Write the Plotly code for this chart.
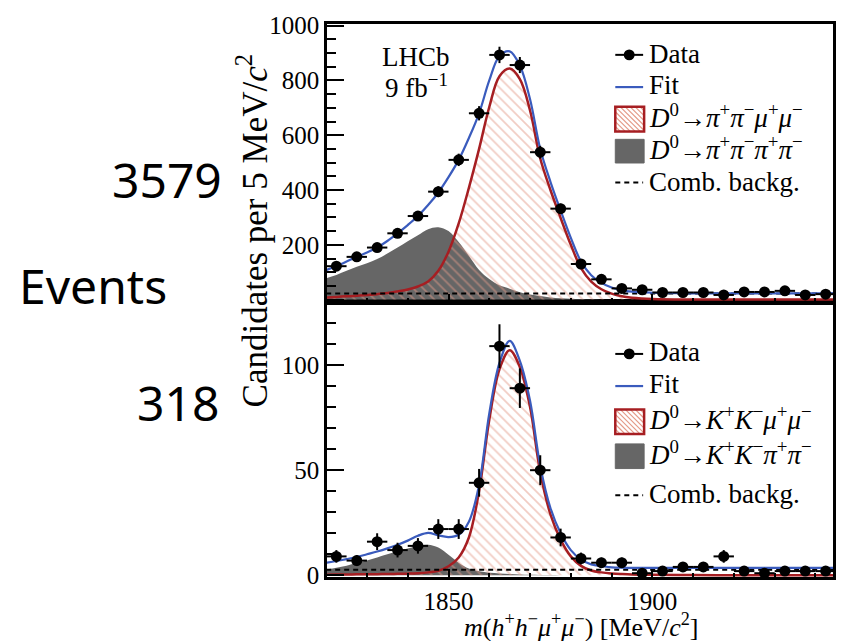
import plotly.graph_objects as go

# ---------------- data ----------------
BIN_CENTERS = [1822.5, 1827.5, 1832.5, 1837.5, 1842.5, 1847.5, 1852.5, 1857.5,
               1862.5, 1867.5, 1872.5, 1877.5, 1882.5, 1887.5, 1892.5, 1897.5,
               1902.5, 1907.5, 1912.5, 1917.5, 1922.5, 1927.5, 1932.5, 1937.5, 1942.5]
BIN_HALF_WIDTH = 2.5

PIPI_DATA = [122, 156, 190, 242, 305, 394, 510, 680, 893, 856, 538, 332, 130,
             74, 41, 36, 26, 26, 26, 17, 28, 28, 32, 17, 20]
PIPI_ERR = [11, 12.5, 13.8, 15.6, 17.5, 19.8, 22.6, 26, 29.9, 29.3, 23.2, 18.2, 11.4,
            8.6, 6.4, 6, 5.1, 5.1, 5.1, 4.1, 5.3, 5.3, 5.7, 4.1, 4.5]

KK_DATA = [9, 7, 16, 12, 14, 22, 22, 44, 109, 89, 50, 18, 8, 6, 6, 1, 2, 4, 4, 9,
           2, 1, 2, 2, 2]
KK_ERR = [3, 2.6, 4, 3.5, 3.7, 4.7, 4.7, 6.6, 10.4, 9.4, 7.1, 4.2, 2.8, 2.4, 2.4,
          1, 1.4, 2, 2, 3, 1.4, 1, 1.4, 1.4, 1.4]

CURVE_X = [1820, 1822.5, 1825, 1827.5, 1830, 1832.5, 1835, 1837.5, 1840, 1842.5,
           1845, 1847.5, 1850, 1852.5, 1855, 1857.5, 1860, 1862.5, 1865, 1867.5,
           1870, 1872.5, 1875, 1877.5, 1880, 1882.5, 1885, 1887.5, 1890, 1892.5,
           1895, 1900, 1910, 1920, 1930, 1945]

PIPI_FIT = [108, 122, 139, 156, 172, 190, 214, 242, 272, 305,
            345, 391, 447, 510, 590, 680, 800, 889, 906, 854,
            731, 550, 430, 325, 225, 139, 89, 61, 44, 34,
            29, 25, 23, 23, 23, 23]
PIPI_SIGNAL = [8, 10, 12, 14, 17, 20, 24, 30, 37, 48,
               66, 105, 175, 278, 408, 550, 703, 815, 843, 805,
               690, 515, 400, 298, 200, 115, 66, 38, 22, 12,
               7, 2.5, 0.5, 0.2, 0.1, 0]
PIPI_MISID = [78, 90, 105, 120, 133, 148, 168, 190, 213, 235,
              257, 264, 250, 210, 160, 108, 75, 52, 40, 27,
              19, 13, 8, 5, 3, 2, 1, 0.5, 0.3, 0.2,
              0.1, 0, 0, 0, 0, 0]
PIPI_COMB_X = [1820, 1945]
PIPI_COMB = [22, 22]

KK_FIT = [6.0, 6.8, 7.7, 8.7, 10.0, 11.3, 12.8, 14.5, 16.5, 18.8,
          20.2, 19.0, 18.2, 19.3, 25.5, 43, 77, 101, 111.5, 102,
          83, 52, 32, 20, 12, 7.5, 5.2, 4.3, 3.8, 3.6,
          3.5, 3.5, 3.5, 3.5, 3.5, 3.5]
KK_SIGNAL = [0.3, 0.35, 0.4, 0.45, 0.5, 0.55, 0.6, 0.7, 0.8, 1.0,
             1.4, 2.2, 4.3, 8.5, 18, 40, 74, 98, 107, 99,
             80, 49, 29, 17, 9, 4.5, 2.3, 1.4, 0.9, 0.6,
             0.4, 0.25, 0.1, 0.05, 0.02, 0]
KK_MISID = [2.8, 3.6, 4.6, 5.8, 7.0, 8.5, 10.0, 11.5, 12.8, 14.0,
            14.5, 13.2, 9.8, 6.0, 3.2, 1.9, 1.2, 0.9, 0.6, 0.4,
            0.25, 0.15, 0.1, 0.07, 0.05, 0, 0, 0, 0, 0,
            0, 0, 0, 0, 0, 0]
KK_COMB_X = [1820, 1945]
KK_COMB = [2.7, 2.7]

TOP_YTICKS = [0, 200, 400, 600, 800, 1000]
TOP_YTICKTEXT = ["", "200", "400", "600", "800", "1000"]
BOT_YTICKS = [0, 50, 100]
BOT_YTICKTEXT = ["0", "50", "100"]

LEGEND_TOP = ["Data", "Fit",
              "<i>D</i><sup>0</sup>→<i>π</i><sup>+</sup><i>π</i><sup>−</sup><i>μ</i><sup>+</sup><i>μ</i><sup>−</sup>",
              "<i>D</i><sup>0</sup>→<i>π</i><sup>+</sup><i>π</i><sup>−</sup><i>π</i><sup>+</sup><i>π</i><sup>−</sup>",
              "Comb. backg."]
LEGEND_BOT = ["Data", "Fit",
              "<i>D</i><sup>0</sup>→<i>K</i><sup>+</sup><i>K</i><sup>−</sup><i>μ</i><sup>+</sup><i>μ</i><sup>−</sup>",
              "<i>D</i><sup>0</sup>→<i>K</i><sup>+</sup><i>K</i><sup>−</sup><i>π</i><sup>+</sup><i>π</i><sup>−</sup>",
              "Comb. backg."]
SIDE_LABELS = ["3579", "Events", "318"]

# ---------------- styles ----------------
BLUE = "#3a5bbd"
RED = "#a61e22"
HATCH = "#e49a88"
GREY = "#666666"
SERIF = "Liberation Serif, Times New Roman, serif"

W, H = 848, 641
L, R, T, B = 327, 836, 16, 577
SPLIT = 298


def px(x):
    return (x - L) / (R - L)


def py(y):
    return (B - y) / (B - T)


fig = go.Figure()


def add_panel(xa, ya, data, err, fit, sig, misid, comb_x, comb):
    fig.add_trace(go.Scatter(x=CURVE_X, y=misid, mode="lines", line=dict(width=0, shape="spline"),
                             fill="tozeroy", fillcolor=GREY, xaxis=xa, yaxis=ya,
                             showlegend=False, hoverinfo="skip"))
    fig.add_trace(go.Scatter(x=CURVE_X, y=sig, mode="lines",
                             line=dict(color=RED, width=2.5, shape="spline"),
                             fill="tozeroy", fillcolor="rgba(0,0,0,0)",
                             fillpattern=dict(shape="\\", fgcolor=HATCH, bgcolor="rgba(0,0,0,0)",
                                              size=7, solidity=0.25),
                             xaxis=xa, yaxis=ya, showlegend=False, hoverinfo="skip"))
    fig.add_trace(go.Scatter(x=comb_x, y=comb, mode="lines",
                             line=dict(color="black", width=2, dash="5px,4px"),
                             xaxis=xa, yaxis=ya, showlegend=False, hoverinfo="skip"))
    fig.add_trace(go.Scatter(x=CURVE_X, y=fit, mode="lines",
                             line=dict(color=BLUE, width=2.2, shape="spline"),
                             xaxis=xa, yaxis=ya, showlegend=False, hoverinfo="skip"))
    fig.add_trace(go.Scatter(x=BIN_CENTERS, y=data, mode="markers",
                             marker=dict(color="black", size=11),
                             error_y=dict(type="data", array=err, color="black", thickness=2, width=0),
                             error_x=dict(type="constant", value=BIN_HALF_WIDTH, color="black",
                                          thickness=2, width=0),
                             xaxis=xa, yaxis=ya, showlegend=False))


add_panel("x2", "y2", PIPI_DATA, PIPI_ERR, PIPI_FIT, PIPI_SIGNAL, PIPI_MISID, PIPI_COMB_X, PIPI_COMB)
add_panel("x", "y", KK_DATA, KK_ERR, KK_FIT, KK_SIGNAL, KK_MISID, KK_COMB_X, KK_COMB)

tickfont = dict(family=SERIF, size=25, color="black")
split_frac = py(SPLIT)
xcommon = dict(range=[1820.2, 1944.3], showline=True, linecolor="black", linewidth=2.5,
               mirror=True, ticks="inside", ticklen=8, tickwidth=2, tickcolor="black",
               tick0=1850, dtick=50, showgrid=False, zeroline=False, tickfont=tickfont,
               minor=dict(dtick=10, tick0=1850, ticks="inside", ticklen=4.5, tickwidth=2,
                          tickcolor="black", showgrid=False))
ycommon = dict(showline=True, linecolor="black", linewidth=2.5, mirror=True,
               ticks="inside", ticklen=17, tickwidth=2, tickcolor="black",
               showgrid=False, zeroline=False, tickfont=tickfont, tickmode="array")

fig.update_layout(
    width=W, height=H,
    margin=dict(l=L, r=W - R, t=T, b=H - B, pad=0),
    paper_bgcolor="white", plot_bgcolor="white",
    showlegend=False,
    xaxis=dict(**xcommon, anchor="y", domain=[0, 1]),
    yaxis=dict(**ycommon, domain=[0, split_frac], range=[-0.8, 130],
               tickvals=BOT_YTICKS, ticktext=BOT_YTICKTEXT,
               minor=dict(tickmode="linear", tick0=0, dtick=10, ticks="inside", ticklen=9,
                          tickwidth=2, tickcolor="black", showgrid=False)),
    xaxis2=dict(**xcommon, anchor="y2", matches="x", showticklabels=False, domain=[0, 1]),
    yaxis2=dict(**ycommon, domain=[split_frac, 1], range=[-8.6, 1005.8], anchor="x2",
                tickvals=TOP_YTICKS, ticktext=TOP_YTICKTEXT,
                minor=dict(tickmode="linear", tick0=0, dtick=50, ticks="inside", ticklen=9,
                           tickwidth=2, tickcolor="black", showgrid=False)),
)

shapes = []
annotations = []


def legend(items, ys, box1, box2, ytext):
    x0, x1 = 617, 645
    # data
    shapes.append(dict(type="line", xref="paper", yref="paper", x0=px(x0), x1=px(x1),
                       y0=py(ys[0]), y1=py(ys[0]), line=dict(color="black", width=2)))
    shapes.append(dict(type="circle", xref="paper", yref="paper", x0=px(625.5), x1=px(636.5),
                       y0=py(ys[0] + 5.5), y1=py(ys[0] - 5.5), fillcolor="black",
                       line=dict(color="black", width=0)))
    # fit
    shapes.append(dict(type="line", xref="paper", yref="paper", x0=px(x0), x1=px(x1),
                       y0=py(ys[1]), y1=py(ys[1]), line=dict(color=BLUE, width=2.2)))
    # hatched box
    bx0, bx1 = 617, 646
    by0, by1 = box1
    c = bx0 - by1
    while c < bx1 - by0:
        xa = max(bx0, by0 + c)
        xb = min(bx1, by1 + c)
        if xb > xa:
            shapes.append(dict(type="line", xref="paper", yref="paper", x0=px(xa), x1=px(xb),
                               y0=py(xa - c), y1=py(xb - c), line=dict(color=HATCH, width=1.2)))
        c += 5
    shapes.append(dict(type="rect", xref="paper", yref="paper", x0=px(bx0), x1=px(bx1),
                       y0=py(by1), y1=py(by0), line=dict(color=RED, width=2.5)))
    # grey box
    gy0, gy1 = box2
    shapes.append(dict(type="rect", xref="paper", yref="paper", x0=px(bx0), x1=px(bx1),
                       y0=py(gy1), y1=py(gy0), fillcolor=GREY, line=dict(color=GREY, width=1)))
    # dashed
    shapes.append(dict(type="line", xref="paper", yref="paper", x0=px(x0), x1=px(x1),
                       y0=py(ys[4]), y1=py(ys[4]), line=dict(color="black", width=2, dash="5px,4px")))
    for txt, yy in zip(items, ytext):
        annotations.append(dict(text=txt, xref="paper", yref="paper", x=px(649), y=py(yy),
                                xanchor="left", yanchor="middle", showarrow=False,
                                font=dict(family=SERIF, size=27, color="black")))


legend(LEGEND_TOP, [47.3, 80, 0, 0, 176.7], (100, 125), (133, 157), [46, 78, 109, 142, 176])
legend(LEGEND_BOT, [350.7, 383.3, 0, 0, 494], (407, 432), (442, 467), [349, 381, 416, 451, 493])

# LHCb label
annotations.append(dict(text="LHCb", xref="paper", yref="paper", x=px(417), y=py(49),
                        xanchor="center", yanchor="middle", showarrow=False,
                        font=dict(family=SERIF, size=27, color="black")))
annotations.append(dict(text="9 fb<sup>−1</sup>", xref="paper", yref="paper", x=px(417), y=py(79),
                        xanchor="center", yanchor="middle", showarrow=False,
                        font=dict(family=SERIF, size=27, color="black")))
# axis titles
annotations.append(dict(text="Candidates per 5 MeV/<i>c</i><sup>2</sup>", xref="paper", yref="paper",
                        x=px(252), y=py(226), xanchor="center", yanchor="middle", textangle=-90,
                        showarrow=False, font=dict(family=SERIF, size=35, color="black")))
annotations.append(dict(text="<i>m</i>(<i>h</i><sup>+</sup><i>h</i><sup>−</sup><i>μ</i><sup>+</sup><i>μ</i><sup>−</sup>) [MeV/<i>c</i><sup>2</sup>]",
                        xref="paper", yref="paper", x=px(583), y=py(626), xanchor="center",
                        yanchor="middle", showarrow=False,
                        font=dict(family=SERIF, size=26, color="black")))
# side labels
for txt, (cx, cy) in zip(SIDE_LABELS, [(166, 174), (92, 281), (177, 400)]):
    annotations.append(dict(text=txt, xref="paper", yref="paper", x=px(cx), y=py(cy),
                            xanchor="center", yanchor="middle", showarrow=False,
                            font=dict(family="Noto Sans", size=48, color="black")))

fig.update_layout(shapes=shapes, annotations=annotations)
fig.write_html("out.html")
